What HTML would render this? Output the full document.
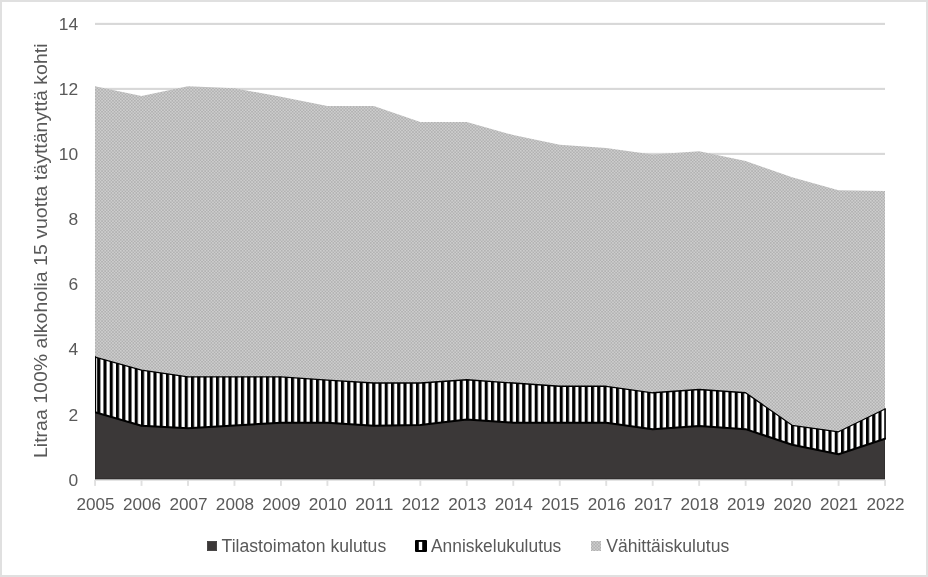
<!DOCTYPE html>
<html lang="fi"><head><meta charset="utf-8"><title>Alkoholin kulutus</title>
<style>
html,body{margin:0;padding:0;background:#fff;}
body{width:928px;height:577px;overflow:hidden;position:relative;}
svg{position:absolute;left:0;top:0;display:block;}
text{font-family:"Liberation Sans", sans-serif;fill:#595959;}
</style></head><body>
<svg width="928" height="577" viewBox="0 0 928 577">
<defs>
<pattern id="stripes" patternUnits="userSpaceOnUse" x="97.2" y="0" width="6.25" height="6.25">
<rect x="0" y="0" width="6.25" height="6.25" fill="#fff"/>
<rect x="0" y="0" width="3.12" height="6.25" fill="#000"/>
</pattern>
<pattern id="dots" patternUnits="userSpaceOnUse" x="95" y="0" width="3.125" height="3.125">
<rect x="0" y="0" width="3.125" height="3.125" fill="#b1b1b1"/>
<rect x="0" y="0" width="1.5625" height="1.5625" fill="#cecece"/>
<rect x="1.5625" y="1.5625" width="1.5625" height="1.5625" fill="#cecece"/>
</pattern>
<clipPath id="plotclip"><rect x="95.0" y="0" width="791.0" height="577"/></clipPath>
<clipPath id="plotclip2"><rect x="95.0" y="0" width="790.0" height="577"/></clipPath>
</defs>
<rect x="0" y="0" width="928" height="577" fill="#fff"/>
<rect x="1" y="1" width="926" height="575" fill="none" stroke="#e0e0e0" stroke-width="2"/>

<rect x="95.0" y="412.85" width="790.0" height="2.1" fill="#d8d8d8"/>
<rect x="95.0" y="347.85" width="790.0" height="2.1" fill="#d8d8d8"/>
<rect x="95.0" y="282.85" width="790.0" height="2.1" fill="#d8d8d8"/>
<rect x="95.0" y="217.85" width="790.0" height="2.1" fill="#d8d8d8"/>
<rect x="95.0" y="152.85" width="790.0" height="2.1" fill="#d8d8d8"/>
<rect x="95.0" y="87.85" width="790.0" height="2.1" fill="#d8d8d8"/>
<rect x="95.0" y="22.85" width="790.0" height="2.1" fill="#d8d8d8"/>
<rect x="94.1" y="479.9" width="791.9" height="1.1" fill="#e4e4e4"/>
<rect x="94.10" y="479.9" width="1.9" height="6" fill="#e0e0e0"/>
<rect x="140.57" y="479.9" width="1.9" height="6" fill="#e0e0e0"/>
<rect x="187.04" y="479.9" width="1.9" height="6" fill="#e0e0e0"/>
<rect x="233.51" y="479.9" width="1.9" height="6" fill="#e0e0e0"/>
<rect x="279.98" y="479.9" width="1.9" height="6" fill="#e0e0e0"/>
<rect x="326.45" y="479.9" width="1.9" height="6" fill="#e0e0e0"/>
<rect x="372.92" y="479.9" width="1.9" height="6" fill="#e0e0e0"/>
<rect x="419.39" y="479.9" width="1.9" height="6" fill="#e0e0e0"/>
<rect x="465.86" y="479.9" width="1.9" height="6" fill="#e0e0e0"/>
<rect x="512.34" y="479.9" width="1.9" height="6" fill="#e0e0e0"/>
<rect x="558.81" y="479.9" width="1.9" height="6" fill="#e0e0e0"/>
<rect x="605.28" y="479.9" width="1.9" height="6" fill="#e0e0e0"/>
<rect x="651.75" y="479.9" width="1.9" height="6" fill="#e0e0e0"/>
<rect x="698.22" y="479.9" width="1.9" height="6" fill="#e0e0e0"/>
<rect x="744.69" y="479.9" width="1.9" height="6" fill="#e0e0e0"/>
<rect x="791.16" y="479.9" width="1.9" height="6" fill="#e0e0e0"/>
<rect x="837.63" y="479.9" width="1.9" height="6" fill="#e0e0e0"/>
<rect x="884.10" y="479.9" width="1.9" height="6" fill="#e0e0e0"/>
<g clip-path="url(#plotclip)">
<path d="M95.00,86.30 L141.47,96.05 L187.94,86.30 L234.41,88.25 L280.88,96.70 L327.35,106.12 L373.82,106.12 L420.29,122.05 L466.76,122.05 L513.24,135.05 L559.71,144.80 L606.18,148.05 L652.65,154.55 L699.12,151.30 L745.59,161.05 L792.06,177.30 L838.53,190.30 L885.00,190.95 L885.00,409.02 L838.53,431.77 L792.06,425.27 L745.59,392.77 L699.12,389.52 L652.65,392.77 L606.18,386.27 L559.71,386.27 L513.24,383.02 L466.76,379.77 L420.29,383.02 L373.82,383.02 L327.35,380.10 L280.88,376.85 L234.41,376.85 L187.94,376.85 L141.47,370.02 L95.00,357.02 Z" fill="url(#dots)"/>
<path d="M95.00,412.27 L141.47,425.76 L187.94,428.36 L234.41,425.44 L280.88,422.84 L327.35,422.84 L373.82,425.76 L420.29,424.95 L466.76,419.42 L513.24,422.67 L559.71,422.67 L606.18,422.67 L652.65,429.17 L699.12,425.92 L745.59,429.17 L792.06,444.77 L838.53,454.20 L885.00,438.76 L885.00,478.90 L95.00,478.90 Z" fill="#3b3838" stroke="#2b2929" stroke-width="1" clip-path="url(#plotclip2)"/>
<path d="M95.00,357.02 L141.47,370.02 L187.94,376.85 L234.41,376.85 L280.88,376.85 L327.35,380.10 L373.82,383.02 L420.29,383.02 L466.76,379.77 L513.24,383.02 L559.71,386.27 L606.18,386.27 L652.65,392.77 L699.12,389.52 L745.59,392.77 L792.06,425.27 L838.53,431.77 L885.00,409.02 L885.00,438.76 L838.53,454.20 L792.06,444.77 L745.59,429.17 L699.12,425.92 L652.65,429.17 L606.18,422.67 L559.71,422.67 L513.24,422.67 L466.76,419.42 L420.29,424.95 L373.82,425.76 L327.35,422.84 L280.88,422.84 L234.41,425.44 L187.94,428.36 L141.47,425.76 L95.00,412.27 Z" fill="url(#stripes)"/>
<path d="M95.00,357.02 L141.47,370.02 L187.94,376.85 L234.41,376.85 L280.88,376.85 L327.35,380.10 L373.82,383.02 L420.29,383.02 L466.76,379.77 L513.24,383.02 L559.71,386.27 L606.18,386.27 L652.65,392.77 L699.12,389.52 L745.59,392.77 L792.06,425.27 L838.53,431.77 L885.00,409.02" fill="none" stroke="#000" stroke-width="1.3" stroke-linejoin="round" stroke-linecap="round"/>
<path d="M95.00,412.27 L141.47,425.76 L187.94,428.36 L234.41,425.44 L280.88,422.84 L327.35,422.84 L373.82,425.76 L420.29,424.95 L466.76,419.42 L513.24,422.67 L559.71,422.67 L606.18,422.67 L652.65,429.17 L699.12,425.92 L745.59,429.17 L792.06,444.77 L838.53,454.20 L885.00,438.76" fill="none" stroke="#000" stroke-width="2.0" stroke-linejoin="round" stroke-linecap="round"/>
<path d="M95.45,357.02 L95.45,412.27 M885.1,409.02 L885.1,438.76" fill="none" stroke="#000" stroke-width="1.5" stroke-linecap="round"/>
</g>
<text x="78.2" y="485.59" font-size="17.4" text-anchor="end">0</text>
<text x="78.2" y="420.52" font-size="17.4" text-anchor="end">2</text>
<text x="78.2" y="355.45" font-size="17.4" text-anchor="end">4</text>
<text x="78.2" y="290.38" font-size="17.4" text-anchor="end">6</text>
<text x="78.2" y="225.31" font-size="17.4" text-anchor="end">8</text>
<text x="78.2" y="160.24" font-size="17.4" text-anchor="end">10</text>
<text x="78.2" y="95.17" font-size="17.4" text-anchor="end">12</text>
<text x="78.2" y="30.10" font-size="17.4" text-anchor="end">14</text>
<text x="95.50" y="510.1" font-size="17.4" text-anchor="middle" textLength="38.1" lengthAdjust="spacingAndGlyphs">2005</text>
<text x="141.97" y="510.1" font-size="17.4" text-anchor="middle" textLength="38.1" lengthAdjust="spacingAndGlyphs">2006</text>
<text x="188.44" y="510.1" font-size="17.4" text-anchor="middle" textLength="38.1" lengthAdjust="spacingAndGlyphs">2007</text>
<text x="234.91" y="510.1" font-size="17.4" text-anchor="middle" textLength="38.1" lengthAdjust="spacingAndGlyphs">2008</text>
<text x="281.38" y="510.1" font-size="17.4" text-anchor="middle" textLength="38.1" lengthAdjust="spacingAndGlyphs">2009</text>
<text x="327.85" y="510.1" font-size="17.4" text-anchor="middle" textLength="38.1" lengthAdjust="spacingAndGlyphs">2010</text>
<text x="374.32" y="510.1" font-size="17.4" text-anchor="middle" textLength="38.1" lengthAdjust="spacingAndGlyphs">2011</text>
<text x="420.79" y="510.1" font-size="17.4" text-anchor="middle" textLength="38.1" lengthAdjust="spacingAndGlyphs">2012</text>
<text x="467.26" y="510.1" font-size="17.4" text-anchor="middle" textLength="38.1" lengthAdjust="spacingAndGlyphs">2013</text>
<text x="513.74" y="510.1" font-size="17.4" text-anchor="middle" textLength="38.1" lengthAdjust="spacingAndGlyphs">2014</text>
<text x="560.21" y="510.1" font-size="17.4" text-anchor="middle" textLength="38.1" lengthAdjust="spacingAndGlyphs">2015</text>
<text x="606.68" y="510.1" font-size="17.4" text-anchor="middle" textLength="38.1" lengthAdjust="spacingAndGlyphs">2016</text>
<text x="653.15" y="510.1" font-size="17.4" text-anchor="middle" textLength="38.1" lengthAdjust="spacingAndGlyphs">2017</text>
<text x="699.62" y="510.1" font-size="17.4" text-anchor="middle" textLength="38.1" lengthAdjust="spacingAndGlyphs">2018</text>
<text x="746.09" y="510.1" font-size="17.4" text-anchor="middle" textLength="38.1" lengthAdjust="spacingAndGlyphs">2019</text>
<text x="792.56" y="510.1" font-size="17.4" text-anchor="middle" textLength="38.1" lengthAdjust="spacingAndGlyphs">2020</text>
<text x="839.03" y="510.1" font-size="17.4" text-anchor="middle" textLength="38.1" lengthAdjust="spacingAndGlyphs">2021</text>
<text x="885.50" y="510.1" font-size="17.4" text-anchor="middle" textLength="38.1" lengthAdjust="spacingAndGlyphs">2022</text>
<text transform="translate(47.1,458.0) rotate(-90)" font-size="18.7" textLength="414.6" lengthAdjust="spacingAndGlyphs">Litraa 100% alkoholia 15 vuotta täyttänyttä kohti</text>
<rect x="207.25" y="541.25" width="9.5" height="9.5" fill="#3b3838" stroke="#2b2929" stroke-width="0.5"/>
<text x="221.6" y="551.7" font-size="17.5" textLength="164.6" lengthAdjust="spacingAndGlyphs">Tilastoimaton kulutus</text>
<rect x="415" y="540" width="12" height="12" rx="1" fill="#000"/>
<rect x="418.8" y="541.9" width="3.4" height="8.1" fill="#fff"/>
<text x="431" y="551.7" font-size="17.5" textLength="130.3" lengthAdjust="spacingAndGlyphs">Anniskelukulutus</text>
<rect x="591" y="541" width="10" height="10" fill="url(#dots)"/>
<text x="606.2" y="551.7" font-size="17.5" textLength="123" lengthAdjust="spacingAndGlyphs">Vähittäiskulutus</text>
</svg>
</body></html>
